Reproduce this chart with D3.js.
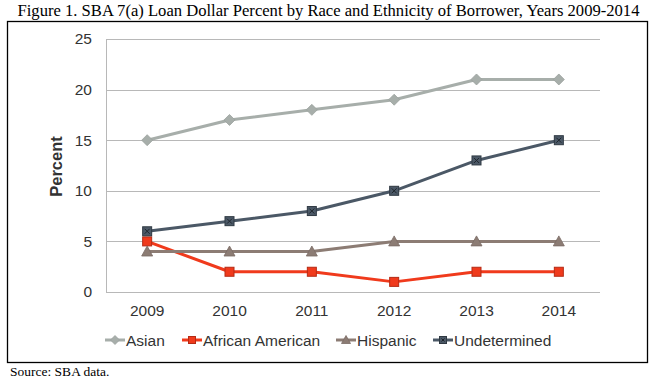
<!DOCTYPE html>
<html>
<head>
<meta charset="utf-8">
<script src="https://cdn.jsdelivr.net/npm/d3@7"></script>
<style>
  body { margin: 0; background: #fff; }
  svg { display: block; }
</style>
</head>
<body>
<div id="chart"></div>
<script>
// data
var years = ["2009", "2010", "2011", "2012", "2013", "2014"];
var asian = [15, 17, 18, 19, 21, 21];
var africanAmerican = [5, 2, 2, 1, 2, 2];
var hispanic = [4, 4, 4, 5, 5, 5];
var undetermined = [6, 7, 8, 10, 13, 15];
var yTicks = [0, 5, 10, 15, 20, 25];

var series = [
    { name: "Asian", values: asian, color: "#a7aeaa", stroke: "#9aa19d", marker: "diamond" },
    { name: "African American", values: africanAmerican, color: "#f03a1c", stroke: "#b52a14", marker: "square" },
    { name: "Hispanic", values: hispanic, color: "#8c7c74", stroke: "#7a6b64", marker: "triangle" },
    { name: "Undetermined", values: undetermined, color: "#4b5866", stroke: "#2f3942", marker: "xsquare" }
];

var W = 657, H = 381;
var margin = { top: 39, right: 57, bottom: 89, left: 106 },
    width = W - margin.left - margin.right,
    height = H - margin.top - margin.bottom;

var svg = d3.select("#chart").append("svg")
    .attr("width", W)
    .attr("height", H);

// title
svg.append("text")
    .attr("x", W / 2)
    .attr("y", 16)
    .attr("text-anchor", "middle")
    .style("font-family", "'Liberation Serif', 'Times New Roman', serif")
    .style("font-size", "16.6px")
    .text("Figure 1. SBA 7(a) Loan Dollar Percent by Race and Ethnicity of Borrower, Years 2009-2014");

// outer frame
svg.append("rect")
    .attr("x", 7.5).attr("y", 21.5)
    .attr("width", 640).attr("height", 341)
    .attr("fill", "none")
    .attr("stroke", "#000")
    .attr("stroke-width", 1.3);

// source
svg.append("text")
    .attr("x", 10)
    .attr("y", 376)
    .style("font-family", "'Liberation Serif', 'Times New Roman', serif")
    .style("font-size", "13.5px")
    .text("Source: SBA data.");

var g = svg.append("g")
    .attr("transform", "translate(" + margin.left + "," + margin.top + ")");

var xScale = d3.scaleBand()
    .domain(years)
    .range([0, width]);

var yScale = d3.scaleLinear()
    .domain([0, 25])
    .range([height, 0]);

// gridlines
g.append("g")
    .selectAll("line")
    .data(yTicks)
    .enter().append("line")
    .attr("x1", 0).attr("x2", width)
    .attr("y1", function(d) { return Math.round(yScale(d)) + 0.5; })
    .attr("y2", function(d) { return Math.round(yScale(d)) + 0.5; })
    .attr("stroke", "#b8b8b8")
    .attr("stroke-width", 1);

// y axis
var yAxis = d3.axisLeft(yScale)
    .tickValues(yTicks)
    .tickSize(0)
    .tickPadding(14);

g.append("g")
    .call(yAxis)
    .call(function(ax) {
        ax.select(".domain").attr("stroke", "#b8b8b8").attr("d", "M0.5," + height + "V0");
        ax.selectAll("text")
            .style("font-family", "'Liberation Sans', Arial, sans-serif")
            .style("font-size", "15.5px")
            .attr("fill", "#333");
    });

// x axis
var xAxis = d3.axisBottom(xScale)
    .tickSize(0)
    .tickPadding(13);

g.append("g")
    .attr("transform", "translate(0," + height + ")")
    .call(xAxis)
    .call(function(ax) {
        ax.select(".domain").remove();
        ax.selectAll("text")
            .style("font-family", "'Liberation Sans', Arial, sans-serif")
            .style("font-size", "15.5px")
            .attr("fill", "#333");
    });

// y label
svg.append("text")
    .attr("transform", "translate(62," + (margin.top + height / 2 + 1) + ") rotate(-90)")
    .attr("text-anchor", "middle")
    .style("font-family", "'Liberation Sans', Arial, sans-serif")
    .style("font-size", "16.5px")
    .style("font-weight", "bold")
    .attr("fill", "#333")
    .text("Percent");

function drawMarker(sel, s, size) {
    var h = size / 2;
    if (s.marker === "diamond") {
        sel.append("path")
            .attr("d", "M0," + (-h - 1) + "L" + (h + 1) + ",0L0," + (h + 1) + "L" + (-h - 1) + ",0Z")
            .attr("fill", s.color).attr("stroke", s.stroke).attr("stroke-width", 0.8);
    } else if (s.marker === "triangle") {
        sel.append("path")
            .attr("d", "M0," + (-h - 1) + "L" + (h + 1) + "," + h + "L" + (-h - 1) + "," + h + "Z")
            .attr("fill", s.color).attr("stroke", s.stroke).attr("stroke-width", 0.8);
    } else {
        sel.append("rect")
            .attr("x", -h).attr("y", -h)
            .attr("width", size).attr("height", size)
            .attr("fill", s.color).attr("stroke", s.stroke).attr("stroke-width", 1);
        if (s.marker === "xsquare") {
            sel.append("path")
                .attr("d", "M" + (-h + 2) + "," + (-h + 2) + "L" + (h - 2) + "," + (h - 2) +
                    "M" + (h - 2) + "," + (-h + 2) + "L" + (-h + 2) + "," + (h - 2))
                .attr("stroke", "#1e252c").attr("stroke-width", 1);
        }
    }
}

var line = d3.line()
    .x(function(d, i) { return xScale(years[i]) + xScale.bandwidth() / 2; })
    .y(function(d) { return yScale(d); });

series.forEach(function(s) {
    g.append("path")
        .datum(s.values)
        .attr("fill", "none")
        .attr("stroke", s.color)
        .attr("stroke-width", 3)
        .attr("stroke-linejoin", "round")
        .attr("d", line);

    s.values.forEach(function(v, i) {
        var m = g.append("g")
            .attr("transform", "translate(" + (xScale(years[i]) + xScale.bandwidth() / 2) + "," + yScale(v) + ")");
        drawMarker(m, s, 9);
    });
});

// legend
var legendX = [105, 182, 336, 433];
var legend = svg.append("g").attr("transform", "translate(0,340)");

series.forEach(function(s, i) {
    var item = legend.append("g").attr("transform", "translate(" + legendX[i] + ",0)");
    item.append("line")
        .attr("x1", 0).attr("x2", 20)
        .attr("y1", 0).attr("y2", 0)
        .attr("stroke", s.color)
        .attr("stroke-width", 3);
    var m = item.append("g").attr("transform", "translate(10,0)");
    drawMarker(m, s, 7);
    item.append("text")
        .attr("x", 21)
        .attr("y", 5.5)
        .style("font-family", "'Liberation Sans', Arial, sans-serif")
        .style("font-size", "15.5px")
        .attr("fill", "#333")
        .text(s.name);
});
</script>
</body>
</html>
